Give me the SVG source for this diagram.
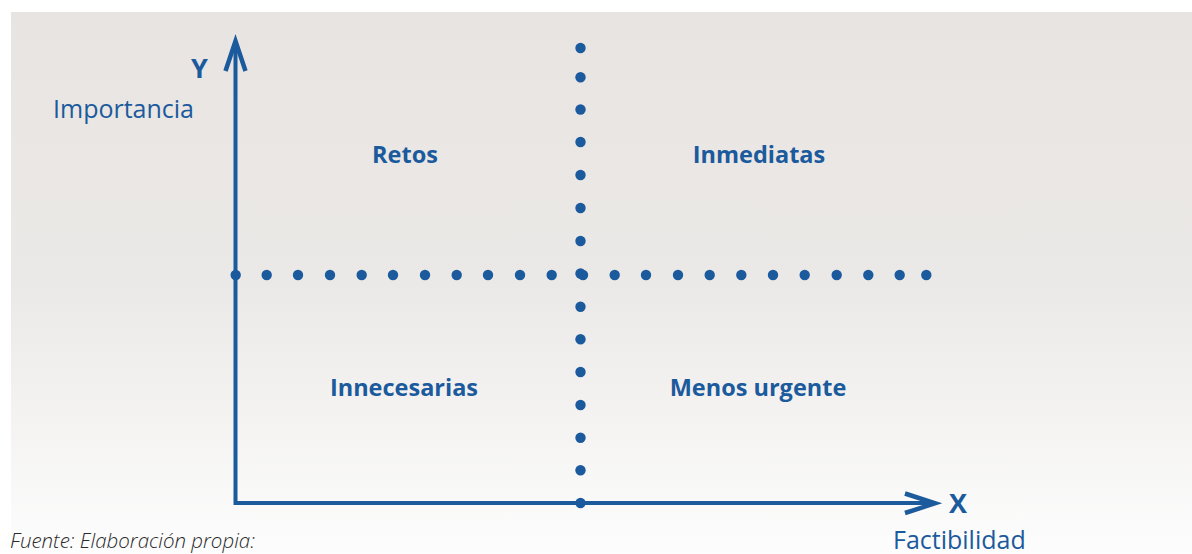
<svg xmlns="http://www.w3.org/2000/svg" width="1192" height="554" viewBox="0 0 1192 554">
<defs>
<linearGradient id="bg" x1="0" y1="12" x2="0" y2="554" gradientUnits="userSpaceOnUse">
<stop offset="0" stop-color="#e8e4e1"/>
<stop offset="0.5" stop-color="#ebe9e7"/>
<stop offset="1" stop-color="#fdfdfd"/>
</linearGradient>
<style>
.ax{stroke:#1b5a9c;stroke-width:4;fill:none}
.head{stroke:#1b5a9c;stroke-width:4.5;fill:none;stroke-linecap:butt;stroke-linejoin:miter}
.d{fill:#1b5a9c}
.lbl{font-family:"Open Sans","Liberation Sans",sans-serif;font-weight:bold;font-size:23.5px;fill:#1b5a9c;text-anchor:middle}
.ttl{font-family:"Open Sans","Liberation Sans",sans-serif;font-size:25px;fill:#1b5a9c}
.axl{font-family:"Open Sans","Liberation Sans",sans-serif;font-weight:bold;font-size:27px;fill:#1b5a9c}
.cap{font-family:"Open Sans","Liberation Sans",sans-serif;font-style:italic;font-weight:300;font-size:20.5px;fill:#2a2a2a}
</style>
</defs>
<rect x="11" y="12" width="1181" height="542" fill="url(#bg)"/>
<g id="connectors">
<path class="ax" d="M235.5 43 V503 H933"/>
<path class="head" d="M225.5 71 L235.5 41 L245.5 71"/>
<path class="head" d="M905 493.5 L935 503.3 L905 513"/>
<g id="hdots">
<circle class="d" cx="235.7" cy="275" r="5.2"/>
<circle class="d" cx="266.7" cy="275" r="5.2"/>
<circle class="d" cx="298" cy="275" r="5.2"/>
<circle class="d" cx="330" cy="275" r="5.2"/>
<circle class="d" cx="361.7" cy="275" r="5.2"/>
<circle class="d" cx="393" cy="275" r="5.2"/>
<circle class="d" cx="425" cy="275" r="5.2"/>
<circle class="d" cx="456.7" cy="275" r="5.2"/>
<circle class="d" cx="488" cy="275" r="5.2"/>
<circle class="d" cx="520" cy="275" r="5.2"/>
<circle class="d" cx="551.7" cy="275" r="5.2"/>
<circle class="d" cx="583" cy="275" r="5.2"/>
<circle class="d" cx="614.7" cy="275" r="5.2"/>
<circle class="d" cx="646" cy="275" r="5.2"/>
<circle class="d" cx="678" cy="275" r="5.2"/>
<circle class="d" cx="709.7" cy="275" r="5.2"/>
<circle class="d" cx="741.3" cy="275" r="5.2"/>
<circle class="d" cx="773" cy="275" r="5.2"/>
<circle class="d" cx="804.7" cy="275" r="5.2"/>
<circle class="d" cx="836.7" cy="275" r="5.2"/>
<circle class="d" cx="868.3" cy="275" r="5.2"/>
<circle class="d" cx="899.7" cy="275" r="5.2"/>
<circle class="d" cx="926.3" cy="275" r="5.2"/>
</g>
<g id="vdots">
<circle class="d" cx="580.5" cy="48" r="5.2"/>
<circle class="d" cx="580.5" cy="77.3" r="5.2"/>
<circle class="d" cx="580.5" cy="109.5" r="5.2"/>
<circle class="d" cx="580.5" cy="142" r="5.2"/>
<circle class="d" cx="580.5" cy="175" r="5.2"/>
<circle class="d" cx="580.5" cy="208" r="5.2"/>
<circle class="d" cx="580.5" cy="241" r="5.2"/>
<circle class="d" cx="580.5" cy="273.5" r="5.2"/>
<circle class="d" cx="580.5" cy="306.7" r="5.2"/>
<circle class="d" cx="580.5" cy="339.3" r="5.2"/>
<circle class="d" cx="580.5" cy="372" r="5.2"/>
<circle class="d" cx="580.5" cy="405" r="5.2"/>
<circle class="d" cx="580.5" cy="437.7" r="5.2"/>
<circle class="d" cx="580.5" cy="470.3" r="5.2"/>
<circle class="d" cx="580.5" cy="503" r="5.2"/>
</g>
</g>
<g id="axis-y"><text class="axl" x="191" y="78">Y</text><text class="ttl" x="53" y="118">Importancia</text></g>
<g id="axis-x"><text class="axl" x="949" y="513">X</text><text class="ttl" x="893" y="549">Factibilidad</text></g>
<g id="q-retos"><text class="lbl" x="405" y="163">Retos</text></g>
<g id="q-inmediatas"><text class="lbl" x="759" y="163">Inmediatas</text></g>
<g id="q-innecesarias"><text class="lbl" x="404" y="396">Innecesarias</text></g>
<g id="q-menos"><text class="lbl" x="758" y="396">Menos urgente</text></g>
<text class="cap" x="10" y="548">Fuente: Elaboración propia:</text>
</svg>
